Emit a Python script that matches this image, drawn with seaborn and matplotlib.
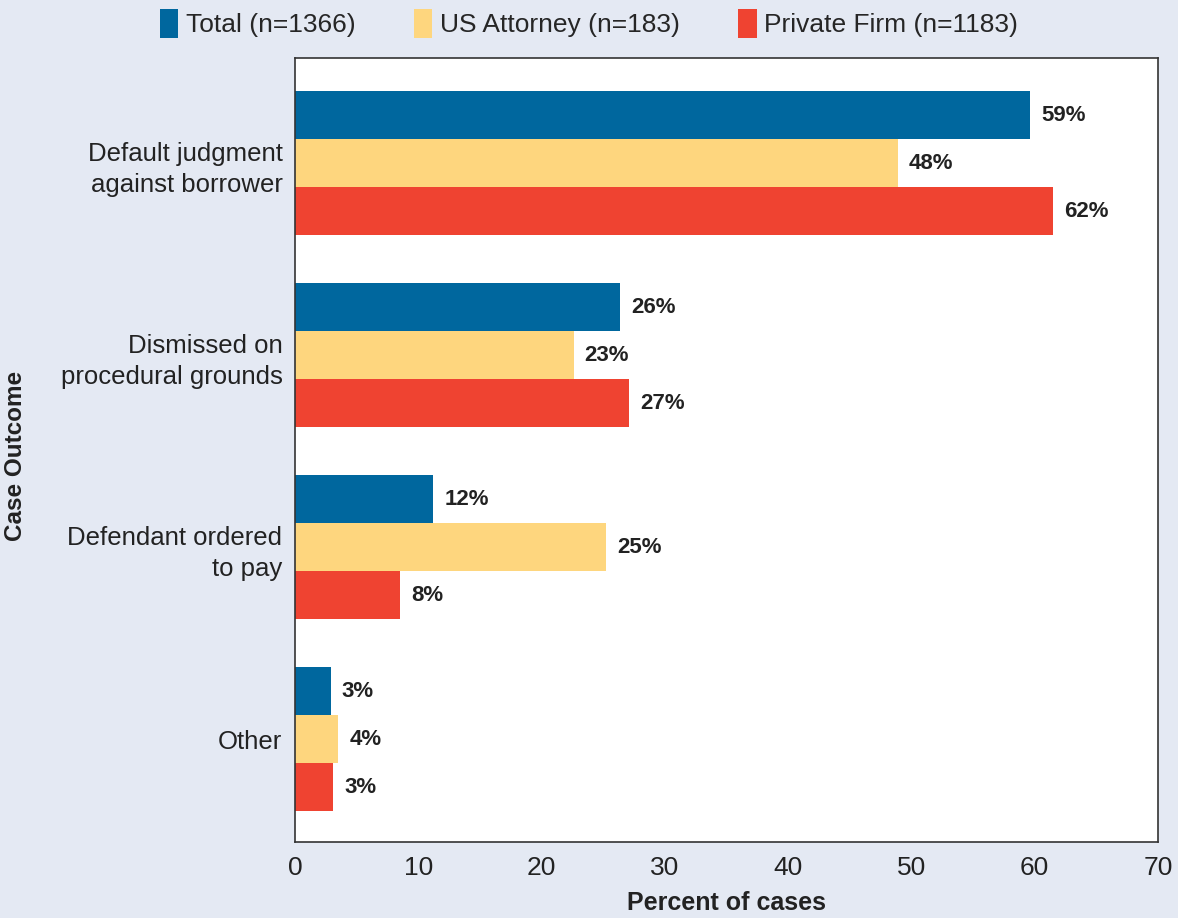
import matplotlib
matplotlib.use("Agg")
import matplotlib.pyplot as plt
import seaborn as sns
import pandas as pd
from matplotlib.patches import Patch

categories = ["Default judgment\nagainst borrower", "Dismissed on\nprocedural grounds",
              "Defendant ordered\nto pay", "Other"]
series = ["Total (n=1366)", "US Attorney (n=183)", "Private Firm (n=1183)"]
total_vals = [59.6, 26.4, 11.2, 2.9]
us_vals = [48.9, 22.6, 25.2, 3.5]
private_vals = [61.5, 27.1, 8.5, 3.1]
total_labels = ["59%", "26%", "12%", "3%"]
us_labels = ["48%", "23%", "25%", "4%"]
private_labels = ["62%", "27%", "8%", "3%"]
xticks = [0, 10, 20, 30, 40, 50, 60, 70]
colors = ["#00679e", "#fed67e", "#ef4331"]
bg = "#e4e9f3"

rows = []
for s, vals in zip(series, [total_vals, us_vals, private_vals]):
    for c, v in zip(categories, vals):
        rows.append({"Outcome": c, "Series": s, "Value": v})
df = pd.DataFrame(rows)

sns.set_style("white")
plt.rcParams["font.family"] = ["Liberation Sans", "DejaVu Sans"]
narrow = ["Liberation Sans Narrow", "Liberation Sans", "DejaVu Sans"]

fig = plt.figure(figsize=(11.78, 9.18), dpi=100, facecolor=bg)
ax = fig.add_axes([0.2504, 0.0828, 0.7326, 0.854])
ax.set_facecolor("white")

sns.barplot(data=df, y="Outcome", x="Value", hue="Series", order=categories,
            hue_order=series, palette=colors, orient="h", width=0.75,
            saturation=1, ax=ax, legend=False, linewidth=0)

all_labels = [total_labels, us_labels, private_labels]
for cont, labs in zip(ax.containers, all_labels):
    ax.bar_label(cont, labels=labs, padding=8, fontsize=16, fontweight="bold",
                 color="#222222")

ax.set_xlim(0, 70)
ax.set_ylim(3.536, -0.547)
ax.set_xticks(xticks)
ax.set_xticklabels([str(t) for t in xticks], fontfamily=narrow,
                   fontsize=19, color="#222222")
ax.tick_params(axis="x", length=0, pad=10)
ax.tick_params(axis="y", length=0, pad=9)
for lab in ax.get_yticklabels():
    lab.set_fontsize(18.5)
    lab.set_color("#222222")
    lab.set_linespacing(1.4)

ax.set_xlabel("Percent of cases", fontsize=18, fontweight="bold", fontfamily=narrow,
              color="#222222", labelpad=8)
ax.set_ylabel("Case Outcome", fontsize=17.5, fontweight="bold", color="#222222")
ax.yaxis.set_label_coords(-0.31, 0.493)

for sp in ax.spines.values():
    sp.set_visible(True)
    sp.set_color("#333333")
    sp.set_linewidth(1.2)

handles = [Patch(facecolor=c, edgecolor="none") for c in colors]
fig.legend(handles, series, loc="upper center", bbox_to_anchor=(0.5, 1.016), ncol=3,
           frameon=False, handlelength=0.7, handleheight=1.3, handletextpad=0.3,
           columnspacing=2.2, prop={"family": narrow, "size": 19})

fig.savefig("out.png", dpi=100, facecolor=bg)
